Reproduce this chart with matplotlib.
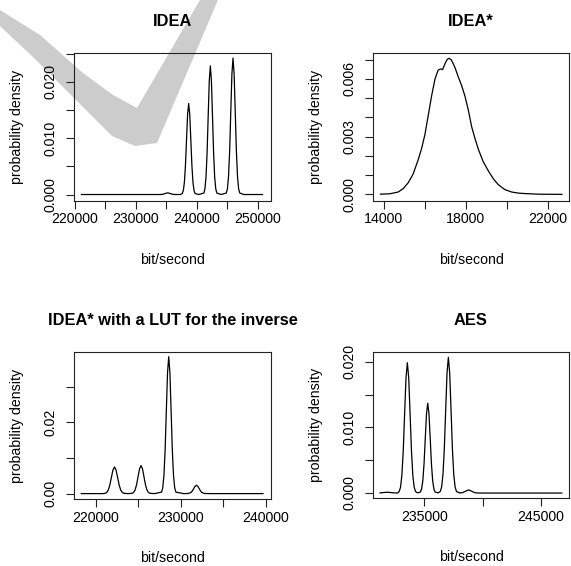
import matplotlib
matplotlib.use("Agg")
import matplotlib.pyplot as plt
from matplotlib.patches import Polygon

plt.rcParams['font.family'] = ['Liberation Sans', 'DejaVu Sans']

# ---------------- data ----------------
titles = ["IDEA", "IDEA*", "IDEA* with a LUT for the inverse", "AES"]
x_label = "bit/second"
y_label = "probability density"

# IDEA
x_idea = [221100, 233500, 234000, 234420, 234820, 235220, 235620, 236020, 236420, 237300,
          237610, 237785, 237960, 238135, 238310, 238485, 238660, 238835, 239010, 239185, 239360, 239535, 239710,
          240300,
          241145, 241323, 241500, 241678, 241855, 242033, 242210, 242388, 242565, 242743, 242920, 243098, 243275,
          244000,
          244830, 245013, 245195, 245378, 245560, 245743, 245925, 246108, 246290, 246473, 246655, 246838, 247020,
          247700, 250740]
y_idea = [0.0, 0.0, 0.0, 0.00004, 0.00018, 0.0003, 0.00018, 0.00004, 0.0, 0.0,
          0.00018, 0.00071, 0.00219, 0.00525, 0.00981, 0.01427, 0.01617, 0.01427, 0.00981, 0.00525, 0.00219, 0.00071, 0.00018,
          0.0,
          0.00025, 0.00100, 0.00309, 0.00743, 0.01387, 0.02018, 0.02287, 0.02018, 0.01387, 0.00743, 0.00309, 0.00100, 0.00025,
          0.0,
          0.00027, 0.00106, 0.00328, 0.00787, 0.01470, 0.02139, 0.02424, 0.02139, 0.01470, 0.00787, 0.00328, 0.00106, 0.00027,
          0.0, 0.0]

# IDEA*
x_ideastar = [13840, 14300, 14700, 14950, 15190, 15430, 15680, 15850, 16005, 16170, 16330, 16500,
              16650, 16770, 16870, 16990, 17100, 17190, 17300, 17470, 17635, 17800, 17960, 18120,
              18290, 18450, 18610, 18850, 19100, 19350, 19590, 19900, 20240, 20600, 20900, 21500,
              22100, 22690]
y_ideastar = [0.00001, 0.00003, 0.00012, 0.0003, 0.0006, 0.00105, 0.0018, 0.0024, 0.0031, 0.0041, 0.0051, 0.0060,
              0.00645, 0.00652, 0.00648, 0.0068, 0.00702, 0.00707, 0.00698, 0.00660, 0.0061, 0.00565, 0.0051, 0.0044,
              0.0035, 0.0029, 0.00235, 0.0017, 0.00122, 0.0008, 0.0005, 0.00025, 0.00012, 0.00006, 0.00004, 0.00001,
              0.000003, 0.0]

# IDEA* with a LUT for the inverse
x_lut = [218270, 220800,
         221085, 221268, 221450, 221633, 221815, 221998, 222180, 222363, 222545, 222728, 222910, 223093, 223275,
         223800,
         224265, 224438, 224610, 224783, 224955, 225128, 225300, 225473, 225645, 225818, 225990, 226163, 226335,
         226900,
         227720, 227860, 228000, 228140, 228280, 228420, 228560, 228700, 228840, 228980, 229120, 229260, 229400,
         230300,
         230860, 231180, 231340, 231500, 231660, 231820, 231980, 232140, 232300, 232460, 232780,
         233500, 239650]
y_lut = [0.0, 0.0,
         0.00008, 0.00033, 0.00101, 0.00244, 0.00455, 0.00662, 0.0075, 0.00662, 0.00455, 0.00244, 0.00101, 0.00033, 0.00008,
         0.0,
         0.00009, 0.00035, 0.00107, 0.00256, 0.00479, 0.00696, 0.00789, 0.00696, 0.00479, 0.00256, 0.00107, 0.00035, 0.00009,
         0.0,
         0.00043, 0.00169, 0.00521, 0.01250, 0.02335, 0.03398, 0.0385, 0.03398, 0.02335, 0.01250, 0.00521, 0.00169, 0.00043,
         0.0,
         0.00003, 0.00032, 0.00076, 0.00142, 0.00207, 0.00234, 0.00207, 0.00142, 0.00076, 0.00032, 0.00003,
         0.0, 0.0]

# AES
x_aes = [231190, 231500, 231800, 232100, 232400, 232700,
         232835, 232953, 233070, 233188, 233305, 233423, 233540, 233658, 233775, 233893, 234010, 234128, 234245,
         234420,
         234654, 234760, 234866, 234972, 235078, 235184, 235290, 235396, 235502, 235608, 235714, 235820, 235926,
         236170,
         236364, 236480, 236596, 236712, 236828, 236944, 237060, 237176, 237292, 237408, 237524, 237640, 237756,
         238050, 238300, 238550, 238800, 239050, 239300, 239550, 240000, 246800]
y_aes = [0.00002, 0.00008, 0.00012, 0.00008, 0.00002, 0.00001,
         0.00022, 0.00087, 0.00269, 0.00645, 0.01204, 0.01752, 0.01985, 0.01752, 0.01204, 0.00645, 0.00269, 0.00087, 0.00022,
         0.00003,
         0.00015, 0.00060, 0.00185, 0.00444, 0.00830, 0.01207, 0.01368, 0.01207, 0.00830, 0.00444, 0.00185, 0.00060, 0.00015,
         0.00002,
         0.00023, 0.00091, 0.00280, 0.00671, 0.01254, 0.01824, 0.02067, 0.01824, 0.01254, 0.00671, 0.00280, 0.00091, 0.00023,
         0.00001, 0.00007, 0.00029, 0.00048, 0.00029, 0.00007, 0.00001, 0.0, 0.0]

# ticks
xticks_idea = [220000, 225000, 230000, 235000, 240000, 245000, 250000]
xlabels_idea = ["220000", "", "230000", "", "240000", "", "250000"]
yticks_idea = [0.000, 0.005, 0.010, 0.015, 0.020, 0.025]
ylabels_idea = ["0.000", "", "0.010", "", "0.020", ""]

xticks_ideastar = [14000, 16000, 18000, 20000, 22000]
xlabels_ideastar = ["14000", "", "18000", "", "22000"]
yticks_ideastar = [0.000, 0.001, 0.002, 0.003, 0.004, 0.005, 0.006, 0.007]
ylabels_ideastar = ["0.000", "", "", "0.003", "", "", "0.006", ""]

xticks_lut = [220000, 225000, 230000, 235000, 240000]
xlabels_lut = ["220000", "", "230000", "", "240000"]
yticks_lut = [0.00, 0.01, 0.02, 0.03]
ylabels_lut = ["0.00", "", "0.02", ""]

xticks_aes = [235000, 240000, 245000]
xlabels_aes = ["235000", "", "245000"]
yticks_aes = [0.000, 0.005, 0.010, 0.015, 0.020]
ylabels_aes = ["0.000", "", "0.010", "", "0.020"]

# ---------------- layout ----------------
W, H = 571, 566
fig = plt.figure(figsize=(W / 100, H / 100), dpi=100)

# watermark (decorative check mark), pixel coords
wm_px = [(0, 10), (40, 35), (83, 73), (113, 95), (137, 108), (200, 0), (218, 0),
         (157, 143), (135, 146), (112, 136), (83, 107), (33, 57), (0, 26)]
wm = Polygon([(x / W, 1 - y / H) for x, y in wm_px], closed=True,
             transform=fig.transFigure, facecolor="#cccccc", edgecolor="none", zorder=-5)
fig.patches.append(wm)

def px_axes(l, t, r, b):
    a = fig.add_axes([l / W, 1 - b / H, (r - l) / W, (b - t) / H])
    a.set_zorder(1)
    return a

panels = [
    (px_axes(74.3, 52.7, 270.7, 200.7), x_idea, y_idea, (219920, 252100), (-0.0011, 0.0252),
     xticks_idea, xlabels_idea, yticks_idea, ylabels_idea),
    (px_axes(372.7, 52.7, 569.3, 200.7), x_ideastar, y_ideastar, (13460, 23050), (-0.00033, 0.00736),
     xticks_ideastar, xlabels_ideastar, yticks_ideastar, ylabels_ideastar),
    (px_axes(74.3, 351.7, 270.7, 499.3), x_lut, y_lut, (217450, 240560), (-0.0016, 0.0399),
     xticks_lut, xlabels_lut, yticks_lut, ylabels_lut),
    (px_axes(372.7, 351.7, 569.3, 498.3), x_aes, y_aes, (230566, 247440), (-0.0008, 0.02152),
     xticks_aes, xlabels_aes, yticks_aes, ylabels_aes),
]

for (ax, xs, ys, xl, yl, xt, xtl, yt, ytl), title in zip(panels, titles):
    ax.set_facecolor("none")
    ax.plot(xs, ys, color="black", linewidth=0.9, solid_joinstyle="round")
    ax.set_xlim(*xl)
    ax.set_ylim(*yl)
    ax.set_xticks(xt)
    ax.set_xticklabels(xtl)
    ax.set_yticks(yt)
    ax.set_yticklabels(ytl)
    for s in ax.spines.values():
        s.set_linewidth(0.8)
        s.set_color("#222222")
    ax.tick_params(axis="both", direction="out", length=5.8, width=0.8, color="#222222",
                   labelsize=10.2, labelcolor="black")
    ax.tick_params(axis="x", pad=2.4)
    ax.tick_params(axis="y", pad=6.0, labelrotation=90)
    for lab in ax.get_yticklabels():
        lab.set_va("center")
    ax.set_xlabel(x_label, fontsize=10.2)
    ax.set_ylabel(y_label, fontsize=10.2)
    ax.xaxis.set_label_coords(0.5, -0.353)
    ax.yaxis.set_label_coords(-0.255, 0.5)
    ax.text(0.5, 1.182, title, transform=ax.transAxes, ha="center", va="baseline",
            fontsize=11.8, fontweight="bold")

fig.savefig("out.png", dpi=100)
